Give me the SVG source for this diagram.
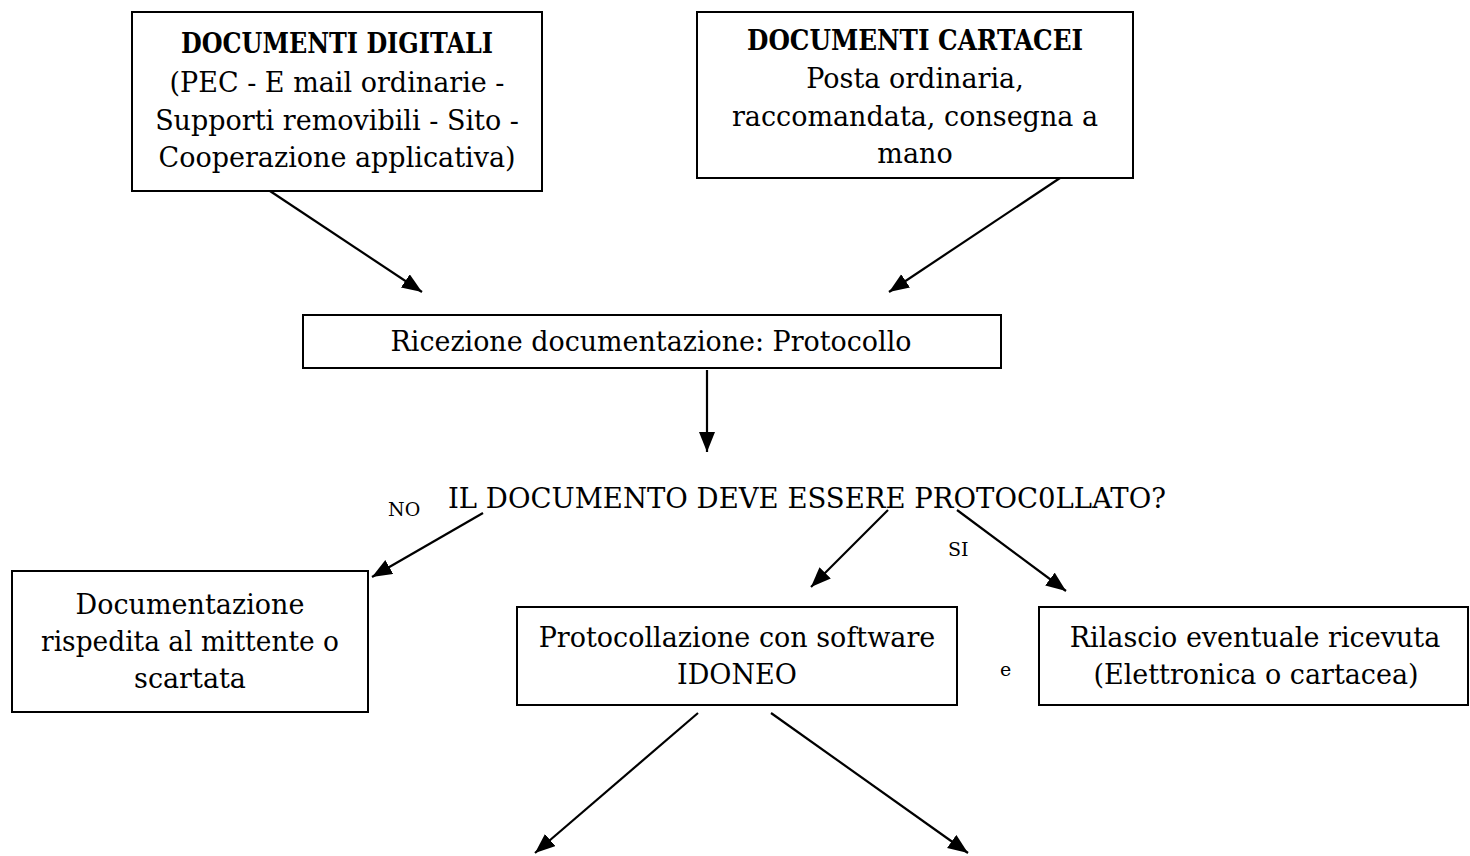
<svg xmlns="http://www.w3.org/2000/svg" width="1470" height="856" viewBox="0 0 1470 856">
<defs>
<style>
.box{fill:#fff;stroke:#000;stroke-width:2}
.t{font-family:"DejaVu Serif","Liberation Serif",serif;font-size:27px;fill:#000;text-anchor:middle}
.b{font-weight:bold}
.s{font-family:"DejaVu Serif","Liberation Serif",serif;font-size:19px;fill:#000}
.c{stroke:#000;stroke-width:2.2;fill:none;marker-end:url(#ah)}
</style>
<marker id="ah" markerUnits="userSpaceOnUse" markerWidth="22" markerHeight="18" refX="20" refY="8" orient="auto">
<path d="M0,0 L20,8 L0,16 Z" fill="#000"/>
</marker>
</defs>
<rect width="1470" height="856" fill="#fff"/>

<g id="connectors">
<line class="c" x1="270" y1="191" x2="422" y2="292"/>
<line class="c" x1="1060" y1="178" x2="889" y2="292"/>
<line class="c" x1="707" y1="370" x2="707" y2="452"/>
<line class="c" x1="483" y1="513" x2="372" y2="577"/>
<line class="c" x1="888" y1="510" x2="811" y2="587"/>
<line class="c" x1="957" y1="510" x2="1066" y2="591"/>
<line class="c" x1="698" y1="713" x2="535" y2="853"/>
<line class="c" x1="771" y1="713" x2="968" y2="853"/>
</g>

<g id="digitali">
<rect class="box" x="132" y="12" width="410" height="179"/>
<text class="t b" x="337" y="53" textLength="312" lengthAdjust="spacingAndGlyphs">DOCUMENTI DIGITALI</text>
<text class="t" x="337" y="92">(PEC - E mail ordinarie -</text>
<text class="t" x="337" y="130">Supporti removibili - Sito -</text>
<text class="t" x="337" y="167">Cooperazione applicativa)</text>
</g>

<g id="cartacei">
<rect class="box" x="697" y="12" width="436" height="166"/>
<text class="t b" x="915" y="50" textLength="336" lengthAdjust="spacingAndGlyphs">DOCUMENTI CARTACEI</text>
<text class="t" x="915" y="88">Posta ordinaria,</text>
<text class="t" x="915" y="126">raccomandata, consegna a</text>
<text class="t" x="915" y="163">mano</text>
</g>

<g id="ricezione">
<rect class="box" x="303" y="315" width="698" height="53"/>
<text class="t" x="651" y="351" textLength="521" lengthAdjust="spacingAndGlyphs">Ricezione documentazione: Protocollo</text>
</g>

<g id="domanda">
<text class="t" x="807" y="508" textLength="718" lengthAdjust="spacingAndGlyphs">IL DOCUMENTO DEVE ESSERE PROTOC0LLATO?</text>
</g>

<g id="label-no"><text class="s" x="388" y="516">NO</text></g>
<g id="label-si"><text class="s" x="948" y="556">SI</text></g>
<g id="label-e"><text class="s" x="1000" y="676">e</text></g>

<g id="scartata">
<rect class="box" x="12" y="571" width="356" height="141"/>
<text class="t" x="190" y="614">Documentazione</text>
<text class="t" x="190" y="651" textLength="298" lengthAdjust="spacingAndGlyphs">rispedita al mittente o</text>
<text class="t" x="190" y="688">scartata</text>
</g>

<g id="protocollazione">
<rect class="box" x="517" y="607" width="440" height="98"/>
<text class="t" x="737" y="647">Protocollazione con software</text>
<text class="t" x="737" y="684">IDONEO</text>
</g>

<g id="ricevuta">
<rect class="box" x="1039" y="607" width="429" height="98"/>
<text class="t" x="1255" y="647">Rilascio eventuale ricevuta</text>
<text class="t" x="1256" y="684">(Elettronica o cartacea)</text>
</g>
</svg>
